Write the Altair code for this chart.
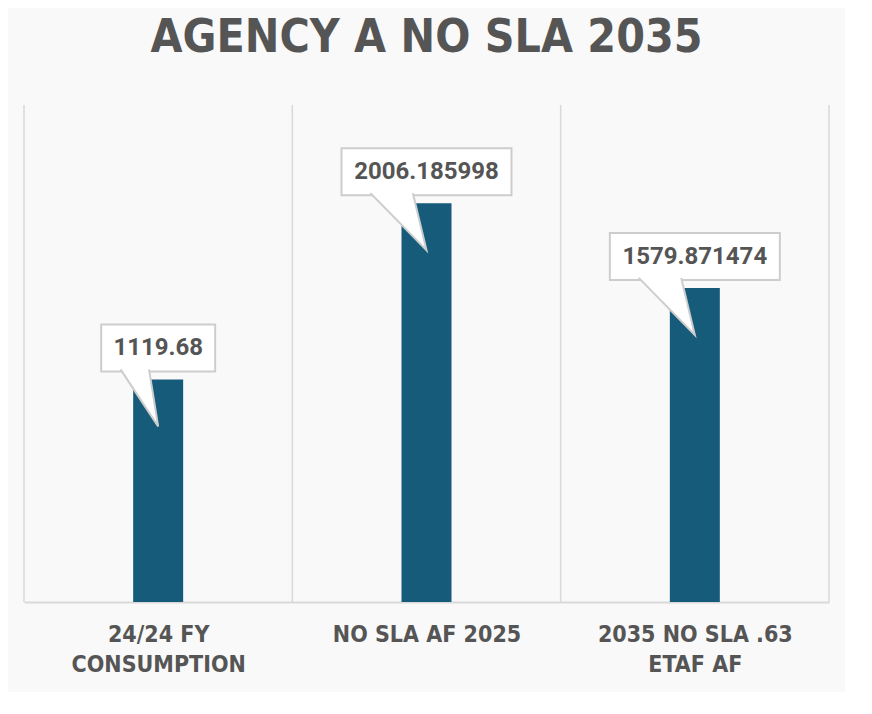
import altair as alt
import pandas as pd

# ---- data ----
TITLE = "AGENCY A NO SLA 2035"
CATEGORIES = [["24/24 FY", "CONSUMPTION"], ["NO SLA AF 2025"], ["2035 NO SLA .63", "ETAF AF"]]
VALUES = [1119.68, 2006.185998, 1579.871474]
VALUE_LABELS = ["1119.68", "2006.185998", "1579.871474"]

# ---- layout / style ----
W, H = 805, 497
YMAX = 2500
N = len(VALUES)
PXX = W / N                # pixels per x unit
PXY = H / YMAX             # pixels per y unit
BAR_COLOR = "#165b7a"
TEXT_COLOR = "#555555"
LINE_COLOR = "#d9d9d9"
BOX_STROKE = "#cdcdcd"
COND_FONT = "'DejaVu Sans Condensed', 'Liberation Sans Narrow', sans-serif"

df = pd.DataFrame({"i": list(range(N)), "v": VALUES, "label": VALUE_LABELS})
df["w"] = df["label"].str.len() * 14 + 16   # callout box width in px

# category separators (band edges)
sep_df = pd.DataFrame({"b": [k - 0.5 for k in range(N + 1)]})

# callout pointer: base on the box bottom, tip inside the bar
rows = []
for _, r in df.iterrows():
    left = -r["w"] / 2
    rows.append({"g": r["i"], "k": 0, "x": r["i"] + (left + 0.17 * r["w"]) / PXX, "y": r["v"] + 10 / PXY})
    rows.append({"g": r["i"], "k": 1, "x": r["i"], "y": r["v"] - 47 / PXY})
    rows.append({"g": r["i"], "k": 2, "x": r["i"] + (left + 0.42 * r["w"]) / PXX, "y": r["v"] + 10 / PXY})
tri_df = pd.DataFrame(rows)

x_scale = alt.Scale(domain=[-0.5, N - 0.5], nice=False, zero=False, padding=0)
y_scale = alt.Scale(domain=[0, YMAX], nice=False)

# category label lines for each tick (nested ternary -> split into lines)
expr = "''"
for k in reversed(range(N)):
    expr = f"(round(datum.value) == {k} ? split('{'|'.join(CATEGORIES[k])}', '|') : {expr})"
label_expr = expr

x_axis = alt.Axis(
    values=list(range(N)),
    labelExpr=label_expr,
    ticks=False,
    grid=False,
    domain=True,
    domainColor=LINE_COLOR,
    domainWidth=2,
    labelFont=COND_FONT,
    labelFontSize=23,
    labelFontWeight="bold",
    labelColor=TEXT_COLOR,
    labelPadding=21,
    labelLineHeight=30,
    labelOverlap=False,
    labelLimit=400,
    labelBaseline="top",
    title=None,
)


def X(field):
    return alt.X(field, scale=x_scale, axis=x_axis, title=None)


def Y(field):
    return alt.Y(field, scale=y_scale, axis=None)


seps = alt.Chart(sep_df).mark_rule(color=LINE_COLOR, strokeWidth=1.5).encode(x=X("b:Q"))

bars = alt.Chart(df).mark_bar(color=BAR_COLOR, size=50, orient="vertical").encode(
    x=X("i:Q"), y=Y("v:Q")
)

box = alt.Chart(df).mark_bar(
    fill="white", stroke=BOX_STROKE, strokeWidth=2, orient="vertical", yOffset=-55, y2Offset=-8
).encode(
    x=X("i:Q"), y=Y("v:Q"), y2="v:Q", size=alt.Size("w:Q", scale=None)
)

tri = alt.Chart(tri_df).mark_line(
    fill="white", stroke=BOX_STROKE, strokeWidth=2, strokeJoin="miter"
).encode(
    x=X("x:Q"), y=Y("y:Q"), detail="g:N", order="k:Q"
)

txt = alt.Chart(df).mark_text(
    font="Roboto", fontSize=24, fontWeight="bold", color=TEXT_COLOR, dy=-31, baseline="middle"
).encode(
    x=X("i:Q"), y=Y("v:Q"), text="label:N"
)

chart = (
    alt.layer(seps, bars, box, tri, txt)
    .properties(
        width=W,
        height=H,
        padding={"left": 16, "top": 97, "right": 16, "bottom": 90},
        autosize=alt.AutoSizeParams(type="none"),
        background="#f9f9f9",
        title=alt.TitleParams(
            TITLE, font=COND_FONT, fontSize=46, fontWeight="bold", color=TEXT_COLOR,
            offset=42, anchor="middle",
        ),
    )
    .configure_view(strokeWidth=0)
)

chart.save("out.html", embed_options={"renderer": "svg", "actions": False})
